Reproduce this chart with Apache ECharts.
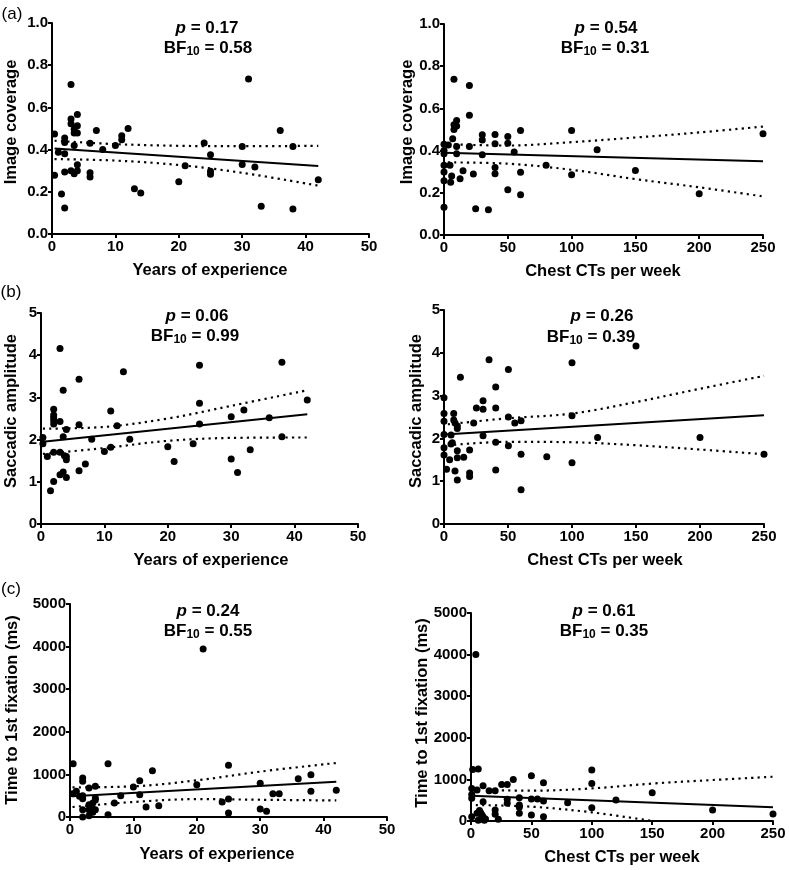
<!DOCTYPE html>
<html><head><meta charset="utf-8">
<script src="https://cdn.jsdelivr.net/npm/echarts@6/dist/echarts.min.js"></script>
<style>html,body{margin:0;padding:0;background:#fff}#c{width:789px;height:870px}</style>
</head><body><div id="c"></div>
<script>
// ---------- DATA ----------
const coverageYears = [[0.4,0.474],[0.4,0.278],[1,0.387],[1.5,0.19],[2,0.123],[2,0.455],[2,0.434],[2,0.38],[2,0.294],[3,0.708],[3,0.545],[3,0.523],[3,0.30],[3.5,0.497],[3.5,0.479],[3.5,0.42],[3.5,0.286],[4,0.566],[4,0.513],[4,0.479],[4,0.328],[4,0.30],[6,0.43],[6,0.29],[6,0.27],[7,0.49],[8,0.40],[10,0.42],[11,0.466],[11,0.447],[12,0.50],[13,0.215],[14,0.194],[20,0.248],[21,0.324],[24,0.431],[25,0.376],[25,0.297],[25,0.283],[30,0.415],[30,0.329],[31,0.735],[32,0.318],[33,0.131],[36,0.491],[38,0.415],[38,0.118],[42,0.257]];
const coverageYearsFit = [[0.4,0.405],[42,0.322]];
const coverageYearsUpper = [[0.4,0.442],[10,0.426],[20,0.418],[30,0.416],[42,0.418]];
const coverageYearsLower = [[0.4,0.355],[10,0.348],[20,0.327],[30,0.29],[42,0.229]];

const coverageCTs = [[0,0.132],[0,0.257],[0,0.298],[0,0.33],[0,0.385],[0,0.40],[0,0.43],[3.4,0.427],[4.7,0.33],[5.2,0.25],[6,0.28],[6.8,0.456],[7.8,0.738],[7.8,0.522],[7.8,0.50],[9.9,0.543],[9.9,0.516],[9.9,0.42],[9.9,0.385],[12.6,0.267],[14.9,0.304],[19.9,0.708],[19.9,0.568],[19.9,0.42],[23,0.289],[24.8,0.125],[30,0.475],[30,0.45],[30,0.38],[34.8,0.12],[40,0.476],[40,0.432],[40,0.32],[40,0.29],[50,0.467],[50,0.435],[50,0.215],[55,0.393],[60,0.495],[60,0.297],[60,0.191],[80,0.33],[100,0.495],[100,0.285],[120,0.404],[150,0.306],[200,0.196],[250,0.48]];
const coverageCTsFit = [[0,0.39],[250,0.349]];
const coverageCTsUpper = [[3,0.43],[50,0.424],[100,0.44],[150,0.462],[200,0.486],[250,0.514]];
const coverageCTsLower = [[3,0.344],[50,0.338],[100,0.309],[150,0.265],[200,0.226],[250,0.183]];

const amplitudeYears = [[0.3,2.05],[0.3,1.90],[1,1.60],[1.5,0.79],[2,1.70],[2,1.01],[2,2.72],[2,2.58],[2,2.52],[2,2.45],[2,2.37],[3,4.16],[3,2.43],[3,1.70],[3,1.17],[3.5,3.17],[3.5,2.07],[3.5,1.23],[3.7,1.62],[4,1.60],[4,1.52],[4,2.24],[4,1.10],[6,3.43],[6,2.35],[6,1.26],[7,1.42],[8,2.01],[10,1.72],[11,2.68],[11,1.82],[12,2.33],[13,3.61],[14,2.01],[20,1.83],[21,1.48],[24,1.90],[25,3.76],[25,2.86],[25,2.37],[30,2.54],[30,1.54],[31,1.22],[32,2.70],[33,1.76],[36,2.52],[38,3.83],[38,2.07],[42,2.94]];
const amplitudeYearsFit = [[0.3,1.95],[42,2.60]];
const amplitudeYearsUpper = [[0.3,2.26],[10,2.30],[20,2.50],[30,2.80],[42,3.17]];
const amplitudeYearsLower = [[0.3,1.66],[10,1.80],[20,1.97],[30,2.04],[42,2.05]];

const amplitudeCTs = [[0,2.95],[0,2.58],[0,2.40],[0,2.09],[0,1.78],[0,1.61],[2,1.28],[4.4,1.50],[5.5,2.08],[5.5,1.87],[6.5,1.90],[7.6,2.58],[7.6,2.43],[8.6,2.36],[8.6,1.24],[10.4,2.29],[10.4,2.23],[10.4,1.71],[10.4,1.55],[10.4,1.03],[12.8,3.43],[15.4,1.56],[20,1.73],[20,1.19],[20,1.11],[23.2,2.36],[25.3,2.71],[30.5,2.88],[30.5,2.68],[30.5,2.06],[35.2,3.84],[40.4,3.20],[40.4,2.71],[40.4,1.91],[40.4,1.26],[50.3,3.61],[50.3,2.50],[50.3,1.83],[55.3,2.36],[60.2,2.41],[60.2,1.63],[60.2,0.80],[80.3,1.57],[100,3.77],[100,2.53],[100,1.43],[120,2.02],[150,4.16],[200,2.02],[250,1.63]];
const amplitudeCTsFit = [[0,2.09],[250,2.54]];
const amplitudeCTsUpper = [[3,2.33],[50,2.47],[100,2.58],[150,2.85],[200,3.16],[250,3.46]];
const amplitudeCTsLower = [[3,1.84],[50,1.92],[100,1.91],[150,1.84],[200,1.74],[250,1.63]];

const fixationYears = [[0.5,1252],[0.4,548],[1,603],[1.5,485],[2,915],[2,837],[2,500],[2,430],[2,172],[2,0],[3,681],[3,290],[3,172],[3,31],[3.6,329],[3.6,188],[3.6,110],[4,720],[4,446],[4,400],[4,172],[6,1252],[6,55],[7,329],[8,500],[10,704],[11,853],[11,524],[12,235],[13,1088],[14,266],[20,759],[21,3944],[24,352],[25,1213],[25,423],[25,94],[30,790],[30,188],[31,133],[32,548],[33,548],[36,900],[38,994],[38,603],[42,626]];
const fixationYearsFit = [[0.4,485],[42,830]];
const fixationYearsUpper = [[0.4,696],[10,720],[20,860],[30,1065],[42,1268]];
const fixationYearsLower = [[0.4,235],[10,352],[20,420],[30,405],[42,388]];

const fixationCTs = [[4,4000],[1.4,1240],[6,1248],[0.6,784],[0.6,640],[0.6,544],[0.6,104],[5,744],[5,184],[10,848],[10,464],[7,250],[8,200],[9,150],[10,100],[8,50],[12,50],[11,20],[6,20],[15,728],[20,728],[20,264],[20,160],[22.6,40],[25.4,880],[30,880],[30,520],[30,424],[35,1000],[40,560],[40,384],[40,328],[40,184],[50,1088],[50,528],[50,144],[55,528],[60,920],[60,480],[60,104],[80,440],[100,1224],[100,904],[100,320],[120,504],[150,680],[200,264],[250,168]];
const fixationCTsFit = [[0,608],[250,328]];
const fixationCTsUpper = [[15,744],[50,728],[100,784],[150,900],[200,985],[250,1064]];
const fixationCTsLower = [[4,384],[50,344],[100,208],[150,0]];

const pValues = ['0.17','0.54','0.06','0.26','0.24','0.61'];
const bfValues = ['0.58','0.31','0.99','0.39','0.55','0.35'];
const xNames = ['Years of experience','Chest CTs per week','Years of experience','Chest CTs per week','Years of experience','Chest CTs per week'];
const yNames = ['Image coverage','Image coverage','Saccadic amplitude','Saccadic amplitude','Time to 1st fixation (ms)','Time to 1st fixation (ms)'];
const panelLetters = ['(a)','(b)','(c)'];

// ---------- LAYOUT ----------
const FONT = '"Liberation Sans", Arial, Helvetica, sans-serif';
const panels = [
  {grid:{left:52,top:23,width:317,height:211}, xMax:50, xInt:10, yMax:1, yInt:0.2, dec:1,
   pts:coverageYears, fit:coverageYearsFit, up:coverageYearsUpper, lo:coverageYearsLower,
   t1:[207,28], t2:[208,48], xn:[210,270], yn:[11,122]},
  {grid:{left:444,top:24,width:319,height:211}, xMax:250, xInt:50, yMax:1, yInt:0.2, dec:1,
   pts:coverageCTs, fit:coverageCTsFit, up:coverageCTsUpper, lo:coverageCTsLower,
   t1:[606,28], t2:[605,48], xn:[603,271], yn:[407,122]},
  {grid:{left:41,top:313,width:317,height:211}, xMax:50, xInt:10, yMax:5, yInt:1, dec:0,
   pts:amplitudeYears, fit:amplitudeYearsFit, up:amplitudeYearsUpper, lo:amplitudeYearsLower,
   t1:[197,316], t2:[195,336], xn:[211,560], yn:[11,411]},
  {grid:{left:444,top:310,width:320,height:214}, xMax:250, xInt:50, yMax:5, yInt:1, dec:0,
   pts:amplitudeCTs, fit:amplitudeCTsFit, up:amplitudeCTsUpper, lo:amplitudeCTsLower,
   t1:[602,316], t2:[591,337], xn:[605,560], yn:[416,411]},
  {grid:{left:70,top:604,width:317,height:213}, xMax:50, xInt:10, yMax:5000, yInt:1000, dec:0,
   pts:fixationYears, fit:fixationYearsFit, up:fixationYearsUpper, lo:fixationYearsLower,
   t1:[208,611], t2:[208,631], xn:[217,854], yn:[12,710]},
  {grid:{left:471,top:613,width:302,height:208}, xMax:250, xInt:50, yMax:5000, yInt:1000, dec:0,
   pts:fixationCTs, fit:fixationCTsFit, up:fixationCTsUpper, lo:fixationCTsLower,
   t1:[604,611], t2:[604,631], xn:[622,857], yn:[422,713]}
];
const letterPos = [[12,14],[11,292],[11,589]];

const axisCommon = {
  type:'value', min:0,
  axisLine:{show:true, onZero:false, lineStyle:{color:'#000', width:2}},
  axisTick:{show:true, length:4, lineStyle:{color:'#000', width:2}},
  splitLine:{show:false}
};
const labelStyle = {color:'#000', fontSize:15, fontWeight:'bold', fontFamily:FONT};

const option = {
  animation:false,
  backgroundColor:'#fff',
  grid: panels.map(p => Object.assign({containLabel:false}, p.grid)),
  xAxis: panels.map((p,i) => Object.assign({}, axisCommon, {
    gridIndex:i, max:p.xMax, interval:p.xInt,
    axisLabel:Object.assign({margin:5}, labelStyle)
  })),
  yAxis: panels.map((p,i) => Object.assign({}, axisCommon, {
    gridIndex:i, max:p.yMax, interval:p.yInt,
    axisLabel:Object.assign({margin:4, formatter: v => v.toFixed(p.dec)}, labelStyle)
  })),
  series: [],
  graphic: []
};

const dotted = {color:'#000', width:2.2, type:[2.2,4.2], cap:'butt'};
panels.forEach((p,i) => {
  option.series.push({type:'scatter', xAxisIndex:i, yAxisIndex:i, data:p.pts, symbol:'circle', symbolSize:7,
    itemStyle:{color:'#000', opacity:1}, z:5, silent:true});
  option.series.push({type:'line', xAxisIndex:i, yAxisIndex:i, data:p.fit, symbol:'none',
    lineStyle:{color:'#000', width:2}, z:4, silent:true});
  option.series.push({type:'line', xAxisIndex:i, yAxisIndex:i, data:p.up, symbol:'none', smooth:0.35,
    lineStyle:dotted, z:4, silent:true});
  option.series.push({type:'line', xAxisIndex:i, yAxisIndex:i, data:p.lo, symbol:'none', smooth:0.35,
    lineStyle:dotted, z:4, silent:true});

  const base = {fill:'#000', fontFamily:FONT, fontWeight:'bold', fontSize:17, align:'center', verticalAlign:'middle'};
  option.graphic.push({type:'text', x:p.t1[0], y:p.t1[1], silent:true,
    style:Object.assign({}, base, {text:'{i|p} = ' + pValues[i],
      rich:{i:{fontStyle:'italic', fontWeight:'bold', fontSize:17, fontFamily:FONT, fill:'#000'}}})});
  option.graphic.push({type:'text', x:p.t2[0], y:p.t2[1], silent:true,
    style:Object.assign({}, base, {text:'{m|BF}{s|10}{m| = ' + bfValues[i] + '}',
      rich:{m:{fontWeight:'bold', fontSize:17, fontFamily:FONT, fill:'#000', lineHeight:19},
            s:{fontWeight:'bold', fontSize:12, fontFamily:FONT, fill:'#000', padding:[8,0,0,0]}}})});
  option.graphic.push({type:'text', x:p.xn[0], y:p.xn[1], silent:true,
    style:Object.assign({}, base, {text:xNames[i], fontSize:16.5})});
  option.graphic.push({type:'text', x:p.yn[0], y:p.yn[1], rotation:Math.PI/2, silent:true,
    style:Object.assign({}, base, {text:yNames[i], fontSize:16.5})});
});
panelLetters.forEach((t,k) => {
  option.graphic.push({type:'text', x:letterPos[k][0], y:letterPos[k][1], silent:true,
    style:{text:t, fill:'#000', fontFamily:FONT, fontSize:17, align:'center', verticalAlign:'middle'}});
});

const chart = echarts.init(document.getElementById('c'), null, {renderer:'canvas'});
chart.setOption(option);
</script>
</body></html>
